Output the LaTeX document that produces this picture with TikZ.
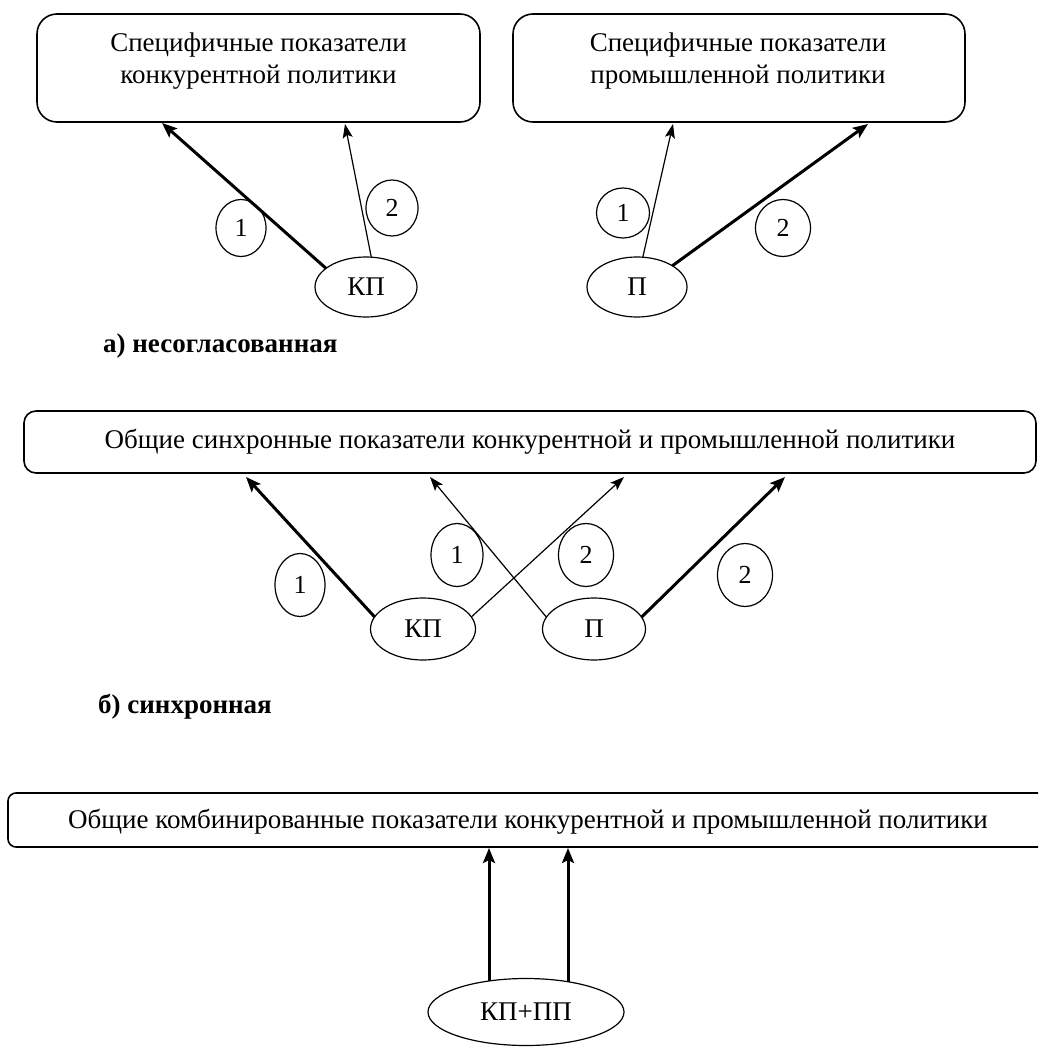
\documentclass[tikz,border=0pt]{standalone}
\usepackage{fontspec}
\setmainfont{Liberation Serif}
\usetikzlibrary{shapes.geometric,arrows.meta}
\tikzset{
  box/.style={draw, line width=1.6pt, inner sep=0pt, outer sep=0pt},
  oval/.style={draw, ellipse, line width=1.2pt, inner sep=0pt, outer sep=0pt,
    font=\fontsize{27}{30}\selectfont},
  num/.style={draw, ellipse, line width=1.2pt, inner sep=0pt, outer sep=0pt,
    font=\fontsize{26}{28}\selectfont},
  boxtext/.style={align=center, font=\fontsize{27}{32}\selectfont},
  caption/.style={anchor=west, inner sep=0pt, font=\fontsize{27}{30}\selectfont\bfseries},
  thinar/.style={line width=1.2pt, -{Stealth[length=14pt,width=10pt,inset=3pt]}},
  thickar/.style={line width=3pt, -{Stealth[length=15pt,width=12pt,inset=3pt]}},
}
\begin{document}
\begin{tikzpicture}[x=1pt,y=-1pt]
\useasboundingbox (0,0) rectangle (1038,1048);
\clip (0,0) rectangle (1038,1048);

% ---- a) ----
\node[box, rounded corners=20pt, minimum width=443pt, minimum height=108pt] (boxA) at (258.5,68) {};
\node[boxtext] (txtA) at (258.5,61) {Специфичные показатели\\конкурентной политики};
\node[box, rounded corners=20pt, minimum width=452pt, minimum height=108pt] (boxB) at (739,68) {};
\node[boxtext] (txtB) at (738,61) {Специфичные показатели\\промышленной политики};

\node[oval, minimum width=102pt, minimum height=60pt] (kpA) at (366,287) {КП};
\node[oval, minimum width=100pt, minimum height=60pt] (pA) at (637,287) {П};

\node[num, minimum width=50pt, minimum height=57pt] (nA1) at (241,228) {1};
\node[num, minimum width=52pt, minimum height=56pt] (nA2) at (392,208) {2};
\node[num, minimum width=53pt, minimum height=50pt] (nB1) at (623,213) {1};
\node[num, minimum width=55pt, minimum height=57pt] (nB2) at (783,228) {2};

\coordinate (tA1) at (162,123);
\coordinate (tA2) at (345,124);
\coordinate (tB1) at (673,124);
\coordinate (tB2) at (868,124);

\draw[thickar] (kpA.155) -- (tA1);
\draw[thinar] (kpA.80) -- (tA2);
\draw[thinar] (pA.79) -- (tB1);
\draw[thickar] (pA.31) -- (tB2);

\node[caption] (capA) at (103,346) {а) несогласованная};

% ---- b) ----
\node[box, rounded corners=12pt, minimum width=1012pt, minimum height=62pt,
  font=\fontsize{27}{30}\selectfont] (boxM) at (530,442) {Общие синхронные показатели конкурентной и промышленной политики};

\node[oval, minimum width=105pt, minimum height=62pt] (kpM) at (423,629) {КП};
\node[oval, minimum width=103pt, minimum height=62pt] (pM) at (594,629) {П};

\node[num, minimum width=50pt, minimum height=63pt] (nM1) at (300,585) {1};
\node[num, minimum width=52pt, minimum height=63pt] (nM2) at (457,555) {1};
\node[num, minimum width=55pt, minimum height=63pt] (nM3) at (586,555) {2};
\node[num, minimum width=55pt, minimum height=63pt] (nM4) at (745,575) {2};

\coordinate (tM1) at (246,477);
\coordinate (tM2) at (624,477);
\coordinate (tM3) at (430,477);
\coordinate (tM4) at (785,477);

\draw[thickar] (kpM.166) -- (tM1);
\draw[thinar] (kpM.14) -- (tM2);
\draw[thinar] (pM.166) -- (tM3);
\draw[thickar] (pM.14) -- (tM4);

\node[caption] (capB) at (98,707) {б) синхронная};

% ---- c) ----
\node[box, rounded corners=8pt, minimum width=1040pt, minimum height=54pt] (boxC) at (528,820) {};
\node[font=\fontsize{27}{30}\selectfont, inner sep=0pt] (txtC) at (528,822) {Общие комбинированные показатели конкурентной и промышленной политики};

\node[oval, minimum width=196pt, minimum height=67pt] (kpp) at (526,1012) {КП+ПП};

\coordinate (tC1) at (489,848);
\coordinate (tC2) at (568,848);
\draw[thickar] (tC1 |- kpp.140) -- (tC1);
\draw[thickar] (tC2 |- kpp.36) -- (tC2);
\end{tikzpicture}
\end{document}
